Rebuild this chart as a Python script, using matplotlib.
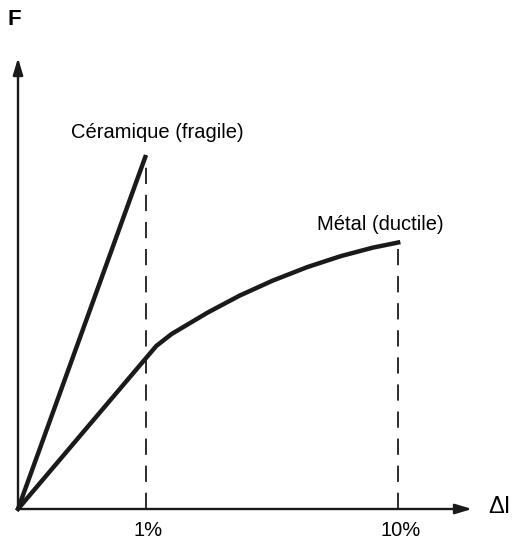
import matplotlib.pyplot as plt

plt.rcParams['font.family'] = ['Liberation Sans', 'DejaVu Sans']

# schematic force / elongation curves (arbitrary units)
ceramic_x = [0.0, 1.0]
ceramic_f = [0.0, 3.54]

metal_x = [0.0, 1.08, 1.2, 1.48, 1.73, 1.99, 2.26, 2.52, 2.77, 2.97]
metal_f = [0.0, 1.63, 1.75, 1.963, 2.133, 2.284, 2.419, 2.528, 2.613, 2.665]

tick_pos = [1.0, 2.97]
tick_labels = ['1%', '10%']

fig = plt.figure(figsize=(5.18, 5.4), dpi=100)
ax = fig.add_axes([0, 0, 1, 1])
ax.set_xlim(-18 / 128, 500 / 128)
ax.set_ylim(-0.31, 5.09)
ax.axis('off')

ink = '#1a1a1a'

# axes arrows
arrow = dict(arrowstyle='-|>,head_length=1.0,head_width=0.3', color=ink,
             lw=1.7, shrinkA=0, shrinkB=0)
ax.annotate('', xy=(0, 4.51), xytext=(0, 0), arrowprops=arrow)
ax.annotate('', xy=(3.547, 0), xytext=(0, 0), arrowprops=arrow)

# dashed guides
ax.plot([ceramic_x[-1]] * 2, [0, ceramic_f[-1]], color=ink, lw=1.3,
        dashes=(9, 6))
ax.plot([metal_x[-1]] * 2, [0, metal_f[-1]], color=ink, lw=1.3,
        dashes=(9, 6))

# curves
ax.plot(ceramic_x, ceramic_f, color=ink, lw=3.2, solid_capstyle='butt')
ax.plot(metal_x, metal_f, color=ink, lw=3.2, solid_joinstyle='round')

ax.text(1.086, 3.76, 'Céramique (fragile)', ha='center', va='center', fontsize=14.5)
ax.text(2.83, 2.84, 'Métal (ductile)', ha='center', va='center', fontsize=14.5)
ax.text(-0.03, 4.89, 'F', ha='center', va='center', fontsize=16, fontweight='bold')
ax.text(3.76, 0.02, 'ΔI', ha='center', va='center', fontsize=17)

for p, lab in zip(tick_pos, tick_labels):
    ax.text(p + 0.02, -0.21, lab, ha='center', va='center', fontsize=14.5)

fig.savefig('out.png', dpi=100)
